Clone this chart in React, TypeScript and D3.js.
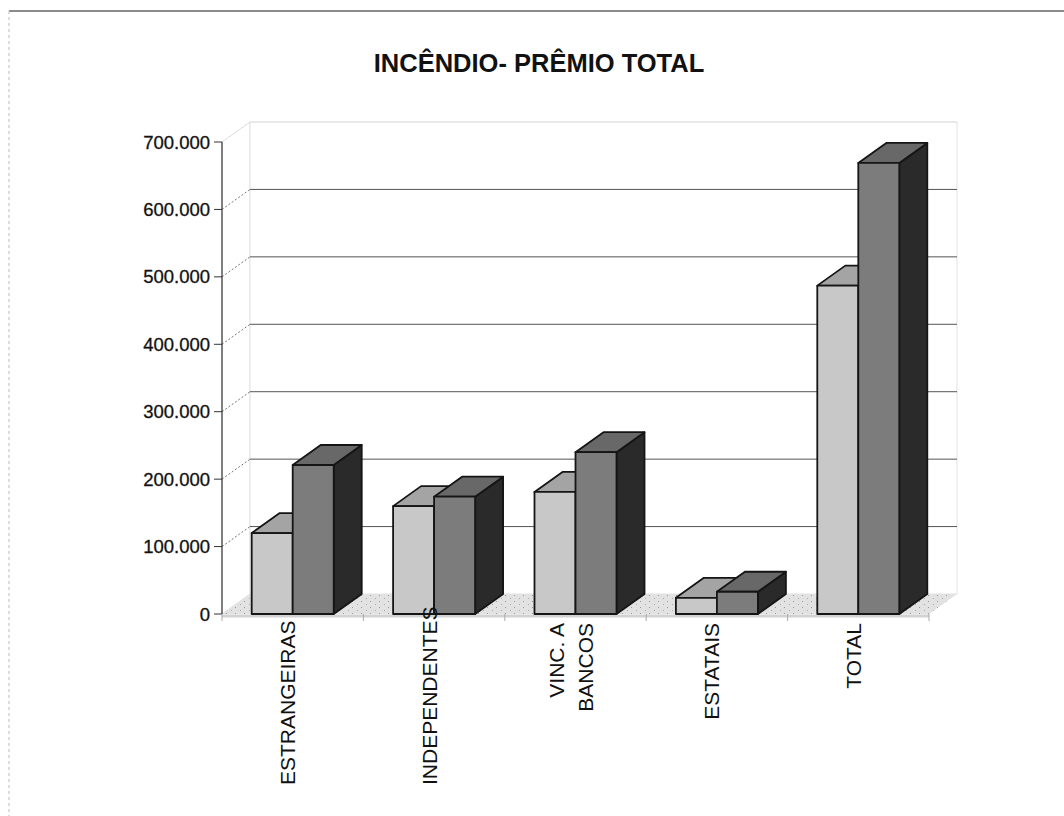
import React, { useEffect, useRef } from 'react';
import * as d3 from 'd3';

const categories = ['ESTRANGEIRAS', 'INDEPENDENTES', 'VINC. A\nBANCOS', 'ESTATAIS', 'TOTAL'];
const seriesNames = ['s1', 's2'];
const lightValues = [120000, 160000, 181000, 24000, 487000];
const darkValues = [221000, 174000, 240000, 33000, 669000];
const yTicks = [0, 100000, 200000, 300000, 400000, 500000, 600000, 700000];
const title = 'INCÊNDIO- PRÊMIO TOTAL';

const W = 1064, H = 816;
const FONT = "Arial, 'Liberation Sans', sans-serif";

const fmt = (v: number) => d3.format(',')(v).replace(/,/g, '.');

export default function App() {
    const svgRef = useRef<SVGSVGElement>(null);

    useEffect(() => {
        const svg = d3.select(svgRef.current);
        svg.selectAll('*').remove();

        const margin = { left: 222, right: 135, top: 142, bottom: 202 };
        const x0 = margin.left, x1 = W - margin.right;
        const y0 = H - margin.bottom, yTop = margin.top;
        const depth = { dx: 28, dy: -20 };

        const yScale = d3.scaleLinear().domain([0, 700000]).range([y0, yTop]);
        const xScale = d3.scaleBand<string>().domain(categories)
            .range([x0, x1]).paddingInner(0.42).paddingOuter(0.21);
        const sScale = d3.scaleBand<string>().domain(seriesNames)
            .range([0, xScale.bandwidth()]);

        // page frame
        svg.append('line').attr('x1', 9).attr('x2', W).attr('y1', 11).attr('y2', 11)
            .attr('stroke', '#666').attr('stroke-width', 1.5);
        svg.append('line').attr('x1', 9).attr('x2', 9).attr('y1', 11).attr('y2', H)
            .attr('stroke', '#bbb').attr('stroke-dasharray', '3,3');

        svg.append('text').text(title)
            .attr('x', 539).attr('y', 72)
            .attr('text-anchor', 'middle')
            .attr('font-family', FONT).attr('font-weight', 'bold').attr('font-size', 25.5)
            .attr('fill', '#111');

        const defs = svg.append('defs');
        const pat = defs.append('pattern').attr('id', 'floorDots')
            .attr('width', 9).attr('height', 6).attr('patternUnits', 'userSpaceOnUse');
        pat.append('rect').attr('width', 9).attr('height', 6).attr('fill', '#e2e2e2');
        pat.append('rect').attr('x', 1).attr('y', 1).attr('width', 1).attr('height', 1).attr('fill', '#999');
        pat.append('rect').attr('x', 6).attr('y', 4).attr('width', 1).attr('height', 1).attr('fill', '#aaa');

        // walls
        const wallL = x0 + depth.dx, wallR = x1 + depth.dx;
        svg.append('path')
            .attr('d', `M${x0},${y0}L${wallL},${y0 + depth.dy}L${wallL},${yTop + depth.dy}L${x0},${yTop}Z`)
            .attr('fill', 'white').attr('stroke', '#e2e2e2');
        svg.append('rect')
            .attr('x', wallL).attr('y', yTop + depth.dy)
            .attr('width', wallR - wallL).attr('height', y0 - yTop)
            .attr('fill', 'white').attr('stroke', '#e2e2e2');

        // floor
        svg.append('path')
            .attr('d', `M${x0},${y0}L${x1},${y0}L${wallR},${y0 + depth.dy}L${wallL},${y0 + depth.dy}Z`)
            .attr('fill', 'url(#floorDots)');
        svg.append('line').attr('x1', x0).attr('x2', x1).attr('y1', y0 + 2).attr('y2', y0 + 2)
            .attr('stroke', '#d2d2d2').attr('stroke-width', 3);

        // gridlines
        const grid = yTicks.filter(t => t > 0);
        svg.selectAll('.grid').data(grid).enter().append('line')
            .attr('class', 'grid')
            .attr('x1', wallL).attr('x2', wallR)
            .attr('y1', d => yScale(d) + depth.dy).attr('y2', d => yScale(d) + depth.dy)
            .attr('stroke', d => d === 700000 ? '#e2e2e2' : '#555')
            .attr('stroke-width', 1);
        svg.selectAll('.diag').data(grid).enter().append('line')
            .attr('class', 'diag')
            .attr('x1', x0).attr('x2', wallL)
            .attr('y1', d => yScale(d)).attr('y2', d => yScale(d) + depth.dy)
            .attr('stroke', d => d === 700000 ? '#ddd' : '#777')
            .attr('stroke-dasharray', '2,2');

        // bars
        const barColors = [
            { front: '#c8c8c8', top: '#a4a4a4', side: '#8a8a8a' },
            { front: '#7c7c7c', top: '#686868', side: '#2a2a2a' },
        ];
        const series = [lightValues, darkValues];
        categories.forEach((cat, ci) => {
            series.forEach((vals, si) => {
                const bx = (xScale(cat) as number) + (sScale(seriesNames[si]) as number);
                const bw = sScale.bandwidth();
                const by = yScale(vals[ci]);
                const c = barColors[si];
                const g = svg.append('g')
                    .attr('stroke', '#151515').attr('stroke-width', 1.8).attr('stroke-linejoin', 'round');
                g.append('path')
                    .attr('d', `M${bx + bw},${by}L${bx + bw + depth.dx},${by + depth.dy}L${bx + bw + depth.dx},${y0 + depth.dy}L${bx + bw},${y0}Z`)
                    .attr('fill', c.side);
                g.append('path')
                    .attr('d', `M${bx},${by}L${bx + depth.dx},${by + depth.dy}L${bx + bw + depth.dx},${by + depth.dy}L${bx + bw},${by}Z`)
                    .attr('fill', c.top);
                g.append('rect')
                    .attr('x', bx).attr('y', by).attr('width', bw).attr('height', y0 - by)
                    .attr('fill', c.front);
            });
        });

        // y axis
        svg.append('line').attr('x1', x0).attr('x2', x0).attr('y1', yTop).attr('y2', y0)
            .attr('stroke', '#333').attr('stroke-width', 1.2);
        const yt = svg.selectAll('.ytick').data(yTicks).enter().append('g')
            .attr('class', 'ytick')
            .attr('transform', d => `translate(0,${yScale(d)})`);
        yt.append('line').attr('x1', x0 - 8).attr('x2', x0).attr('stroke', '#333');
        yt.append('text').text(d => fmt(d))
            .attr('x', 210).attr('y', 6.5)
            .attr('text-anchor', 'end')
            .attr('font-family', FONT).attr('font-size', 18.5).attr('fill', '#111')
            .attr('stroke', '#111').attr('stroke-width', 0.3);

        // x ticks at category boundaries
        const step = xScale.step();
        svg.selectAll('.xtick').data(d3.range(categories.length + 1)).enter().append('line')
            .attr('class', 'xtick')
            .attr('x1', d => x0 + d * step).attr('x2', d => x0 + d * step)
            .attr('y1', y0).attr('y2', y0 + 7)
            .attr('stroke', '#aaa');

        // category labels
        const labelTop = 623, labelBottom = 785, lineGap = 29;
        categories.forEach(cat => {
            const lines = cat.split('\n');
            const cx = (xScale(cat) as number) + xScale.bandwidth() / 2 - 5;
            lines.forEach((ln, li) => {
                const lx = cx + (li - (lines.length - 1) / 2) * lineGap + 7.5;
                const t = svg.append('text').text(ln)
                    .attr('text-anchor', 'end')
                    .attr('font-family', FONT).attr('font-size', 21).attr('fill', '#111');
                const len = (t.node() as SVGTextElement).getComputedTextLength();
                const top = Math.min(labelTop, labelBottom - len);
                t.attr('transform', `translate(${lx},${top}) rotate(-90)`);
            });
        });
    }, []);

    return (
        <svg ref={svgRef} width={W} height={H}
            style={{ position: 'fixed', left: 0, top: 0, background: 'white' }} />
    );
}
